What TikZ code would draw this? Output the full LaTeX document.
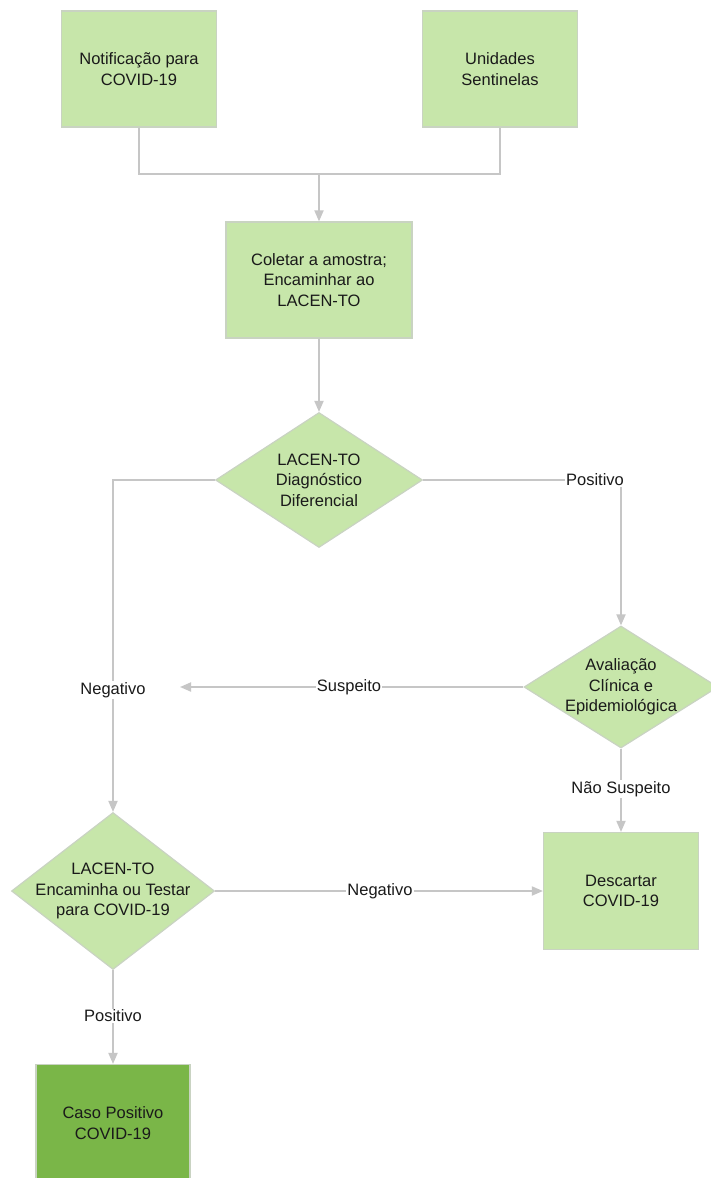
\documentclass[tikz,border=0pt]{standalone}
\usepackage{fontspec}
\setmainfont{Liberation Sans}
\usetikzlibrary{shapes.geometric,arrows.meta}
\definecolor{lgreen}{HTML}{C7E6AA}
\definecolor{dgreen}{HTML}{7AB648}
\definecolor{edgec}{HTML}{C9D3C2}
\definecolor{linec}{HTML}{C6C6C6}
\definecolor{txtc}{HTML}{1A1A1A}
\tikzset{
  box/.style={rectangle, draw=edgec, line width=1.2pt, fill=lgreen, inner sep=0pt, align=center, text=txtc, font=\fontsize{16.5}{20.5}\selectfont},
  dia/.style={diamond, draw=edgec, line width=1.2pt, fill=lgreen, inner sep=0pt},
  dtxt/.style={align=center, text=txtc, font=\fontsize{16.5}{20.5}\selectfont, inner sep=0pt},
  lbl/.style={fill=white, inner sep=1pt, text=txtc, font=\fontsize{16.5}{20}\selectfont},
  conn/.style={draw=linec, line width=1.8pt},
  arr/.style={conn, -{Triangle[length=11pt,width=9pt]}}
}
\begin{document}
\begin{tikzpicture}[x=1pt,y=-1pt]
\useasboundingbox[fill=white] (0,0) rectangle (711,1178);
% nodes
\node[box, minimum width=155, minimum height=116] (n1) at (139,69) {Notificação para\\COVID-19};
\node[box, minimum width=155, minimum height=116] (n2) at (500,69) {Unidades\\Sentinelas};
\node[box, minimum width=186, minimum height=116] (n3) at (319,280) {Coletar a amostra;\\Encaminhar ao\\LACEN-TO};
\node[dia, minimum width=207, minimum height=135] (d1) at (319,480) {};
\node[dtxt] at (d1) {LACEN-TO\\Diagnóstico\\Diferencial};
\node[dia, minimum width=194, minimum height=122] (d2) at (621,687) {};
\node[dtxt] at (d2) {Avaliação\\Clínica e\\Epidemiológica};
\node[dia, minimum width=203, minimum height=157] (d3) at (113,891) {};
\node[dtxt] at (d3) {LACEN-TO\\Encaminha ou Testar\\para COVID-19};
\node[box, minimum width=155, minimum height=117] (n4) at (621,891) {Descartar\\COVID-19};
\node[box, fill=dgreen, minimum width=154, minimum height=117] (n5) at (113,1123) {Caso Positivo\\COVID-19};
% labels
\node[lbl] (negL) at (113,690) {Negativo};
\node[lbl] (posR) at (595,480) {Positivo};
\node[lbl] (susp) at (349,687) {Suspeito};
\node[lbl] (nsusp) at (621,789) {Não Suspeito};
\node[lbl] (negM) at (380,891) {Negativo};
\node[lbl] (posB) at (113,1016) {Positivo};
\coordinate (j) at (319,174);
\coordinate (sa) at (180,687);
% connectors
\draw[conn] (n1.south) |- (j) -| (n2.south);
\draw[arr] (j) -- (n3.north);
\draw[arr] (n3.south) -- (d1.north);
\draw[conn] (d1.west) -| (negL.north);
\draw[arr] (negL.south) -- (d3.north);
\draw[conn] (d1.east) -- (posR.west);
\draw[arr] (d2.north |- posR.south) -- (d2.north);
\draw[conn] (d2.west) -- (susp.east);
\draw[arr] (susp.west) -- (sa);
\draw[conn] (d2.south) -- (nsusp.north);
\draw[arr] (nsusp.south) -- (n4.north);
\draw[conn] (d3.east) -- (negM.west);
\draw[arr] (negM.east) -- (n4.west);
\draw[conn] (d3.south) -- (posB.north);
\draw[arr] (posB.south) -- (n5.north);
\end{tikzpicture}
\end{document}
